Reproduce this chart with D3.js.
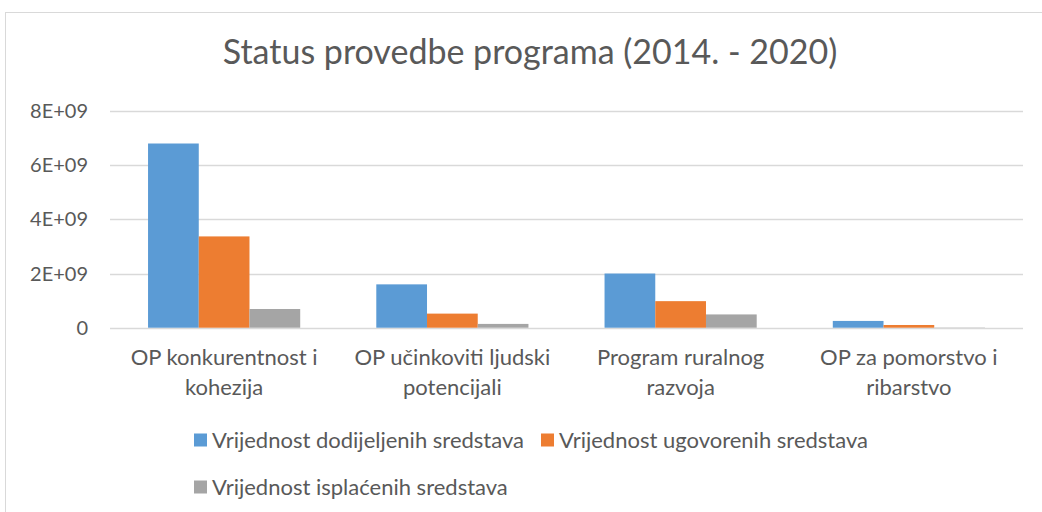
<!DOCTYPE html>
<html>
<head>
<meta charset="utf-8">
<script src="https://cdn.jsdelivr.net/npm/d3@7"></script>
<style>
  body { margin: 0; background: #fff; }
  text { font-family: Lato, "Open Sans", sans-serif; fill: #595959; }
</style>
</head>
<body>
<div id="chart"></div>
<script>
// data
var categories = [
  ["OP konkurentnost i", "kohezija"],
  ["OP učinkoviti ljudski", "potencijali"],
  ["Program ruralnog", "razvoja"],
  ["OP za pomorstvo i", "ribarstvo"]
];
var seriesNames = ["Vrijednost dodijeljenih sredstava", "Vrijednost ugovorenih sredstava", "Vrijednost isplaćenih sredstava"];
var dodijeljeno = [6.80e9, 1.60e9, 2.00e9, 0.25e9];
var ugovoreno = [3.37e9, 0.52e9, 0.98e9, 0.10e9];
var isplaceno = [0.69e9, 0.14e9, 0.49e9, 0.01e9];
var yTicks = [0, 2e9, 4e9, 6e9, 8e9];
var yTickLabels = ["0", "2E+09", "4E+09", "6E+09", "8E+09"];
var colors = ["#5b9bd5", "#ed7d31", "#a5a5a5"];

var W = 1042, H = 512;
var margin = {top: 111, right: 19, bottom: 185, left: 110};

var svg = d3.select("#chart").append("svg")
    .attr("width", W)
    .attr("height", H);

// chart border
svg.append("rect")
    .attr("x", 5.5).attr("y", 12.5)
    .attr("width", W + 10).attr("height", H + 10)
    .attr("fill", "none")
    .attr("stroke", "#d9d9d9");

svg.append("text")
    .attr("x", 530).attr("y", 64)
    .attr("text-anchor", "middle")
    .style("font-size", "34px")
    .text("Status provedbe programa (2014. - 2020)");

var x0 = d3.scaleBand()
    .domain(d3.range(categories.length))
    .range([margin.left, W - margin.right])
    .paddingInner(1 / 3)
    .paddingOuter(1 / 6);

var x1 = d3.scaleBand()
    .domain(d3.range(seriesNames.length))
    .range([0, x0.bandwidth()]);

var y = d3.scaleLinear()
    .domain([0, 8e9])
    .range([H - margin.bottom + 0.7, margin.top]);

// gridlines
svg.append("g")
  .selectAll("line")
  .data(yTicks)
  .enter()
  .append("line")
    .attr("x1", margin.left)
    .attr("x2", W - margin.right)
    .attr("y1", function(d) { return Math.round(y(d)) + 0.5; })
    .attr("y2", function(d) { return Math.round(y(d)) + 0.5; })
    .attr("stroke", "#d9d9d9")
    .attr("stroke-width", 1.3);

// y labels
svg.append("g")
  .selectAll("text")
  .data(yTicks)
  .enter()
  .append("text")
    .attr("x", 88)
    .attr("y", function(d) { return y(d); })
    .attr("dy", "0.35em")
    .attr("text-anchor", "end")
    .style("font-size", "20px")
    .text(function(d, i) { return yTickLabels[i]; });

var series = [dodijeljeno, ugovoreno, isplaceno];

// bars
svg.append("g")
  .selectAll("g")
  .data(series)
  .enter()
  .append("g")
    .attr("fill", function(d, i) { return colors[i]; })
  .selectAll("rect")
  .data(function(d, si) { return d.map(function(v, ci) { return {s: si, c: ci, v: v}; }); })
  .enter()
  .append("rect")
    .attr("x", function(d) { return x0(d.c) + x1(d.s); })
    .attr("width", x1.bandwidth())
    .attr("y", function(d) { return y(d.v); })
    .attr("height", function(d) { return y(0) - y(d.v); });

// category labels
var cat = svg.append("g")
  .selectAll("text")
  .data(categories)
  .enter()
  .append("text")
    .attr("text-anchor", "middle")
    .style("font-size", "22px");
cat.selectAll("tspan")
  .data(function(d, i) { return d.map(function(t) { return {t: t, i: i}; }); })
  .enter()
  .append("tspan")
    .attr("x", function(d) { return x0(d.i) + x0.bandwidth() / 2; })
    .attr("y", function(d, j) { return 365 + j * 30; })
    .text(function(d) { return d.t; });

// legend
var legendPos = [[194, 440], [541, 440], [194, 487]];
var leg = svg.append("g")
  .selectAll("g")
  .data(seriesNames)
  .enter()
  .append("g")
    .attr("transform", function(d, i) { return "translate(" + legendPos[i][0] + "," + legendPos[i][1] + ")"; });
leg.append("rect")
    .attr("x", 0).attr("y", -6.5)
    .attr("width", 13).attr("height", 13)
    .attr("fill", function(d, i) { return colors[i]; });
leg.append("text")
    .attr("x", 18)
    .attr("dy", "0.35em")
    .style("font-size", "22px")
    .text(function(d) { return d; });
</script>
</body>
</html>
